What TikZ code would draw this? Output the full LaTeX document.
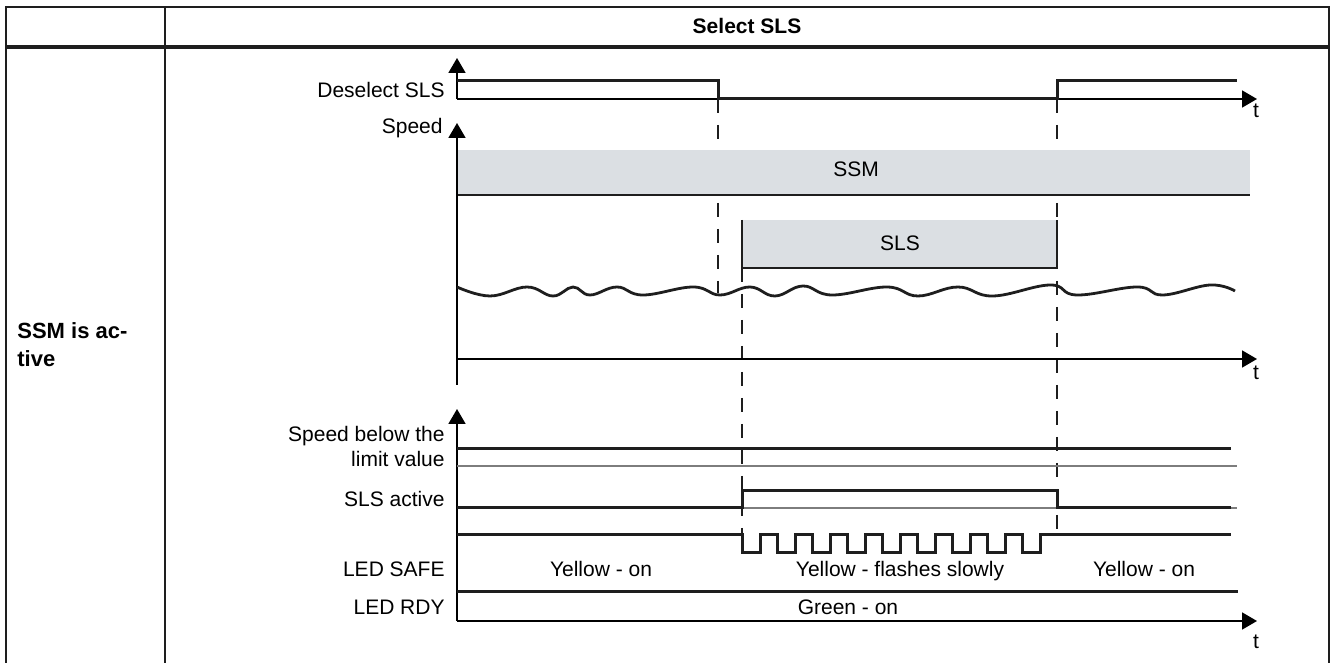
\documentclass[tikz,border=0pt]{standalone}
\usepackage{fontspec}
\setmainfont{Liberation Sans}
\usetikzlibrary{arrows.meta}
\definecolor{bandGray}{RGB}{219,223,227}
\definecolor{sigBlack}{RGB}{30,30,30}
\definecolor{lineGray}{RGB}{125,125,125}
\begin{document}
\begin{tikzpicture}[x=0.5pt,y=-0.5pt,
    lbl/.style={anchor=base east, inner sep=0pt, font=\fontsize{10.5}{12.5}\selectfont},
    txt/.style={anchor=base, inner sep=0pt, font=\fontsize{10.5}{12.5}\selectfont},
    sig/.style={line width=1.5pt, sigBlack},
    ax/.style={line width=0.9pt, black},
    arr/.style={ax, -{Triangle[length=7.5pt,width=8.5pt]}},
    baseln/.style={line width=0.6pt, lineGray},
    dsh/.style={line width=0.6pt, sigBlack, dash pattern=on 7pt off 6pt},
    band/.style={fill=bandGray, draw=none},
    frm/.style={line width=0.8pt, sigBlack}
  ]
  \useasboundingbox (0,0) rectangle (1330,663);
  % TABLE FRAME
  \draw[frm] (6,663) -- (6,7) -- (1329,7) -- (1329,663);
  \draw[frm] (165,7) -- (165,663);
  \draw[line width=2pt, sigBlack] (6,47) -- (1329,47);
  \node[anchor=base, font=\fontsize{10.5}{12.5}\selectfont\bfseries] (sel) at (747,34) {Select SLS};
  \node[anchor=base west, inner sep=0pt, font=\fontsize{11}{14}\selectfont\bfseries] (ssmact) at (17,339) {SSM is ac-};
  \node[anchor=base west, inner sep=0pt, font=\fontsize{11}{14}\selectfont\bfseries] (ssmact2) at (17,367) {tive};
  % SIGNAL NAMES
  \node[lbl] (dsl) at (445,98) {Deselect SLS};
  \node[lbl] (spd) at (443,134) {Speed};
  \node[lbl] (sbl) at (445,442) {Speed below the};
  \node[lbl] (sbl2) at (445,467) {limit value};
  \node[lbl] (slsa) at (445,507) {SLS active};
  \node[lbl] (safe) at (445,577) {LED SAFE};
  \node[lbl] (rdy) at (445,615) {LED RDY};
  % Dashed time marks
  \draw[dsh] (718,99) -- (718,293);
  \draw[dsh] (742,268) -- (742,533);
  \draw[dsh] (1057,99) -- (1057,533);
  % TOP: Deselect SLS
  \draw[arr] (457,99) -- (457,58);
  \draw[arr] (457,99) -- (1257,99);
  \node[txt] (t1) at (1256,118) {t};
  \draw[sig] (457,81) -- (718,81) -- (718,99) -- (1057,99) -- (1057,81) -- (1237,81);
  % MIDDLE: Speed with SSM / SLS bands
  \fill[band] (457,150) rectangle (1250,195);
  \draw[line width=0.7pt, sigBlack] (457,195) -- (1250,195);
  \node[txt] (ssm) at (856,177) {SSM};
  \fill[band] (742,220) rectangle (1057,268);
  \draw[line width=0.7pt, sigBlack] (742,220) -- (742,268) -- (1057,268) -- (1057,220);
  \node[txt] (sls) at (900,251) {SLS};
  \draw[arr] (457,385) -- (457,123);
  \draw[arr] (457,359) -- (1257,359);
  \node[txt] (t2) at (1256,380) {t};
  \draw[line width=1.4pt, sigBlack] plot[smooth, tension=0.7] coordinates {
    (457,287) (490,296) (527,287) (553,296) (573,287) (590,295) (617,287)
    (643,295) (693,287) (720,295) (750,287) (775,296) (803,286) (832,295)
    (887,287) (918,296) (958,287) (993,296) (1050,285) (1077,295) (1137,287)
    (1163,295) (1210,285) (1235,291)};
  % BOTTOM: status signals
  \draw[arr] (457,621) -- (457,409);
  \draw[arr] (457,621) -- (1257,621);
  \node[txt] (t3) at (1256,648) {t};
  \draw[baseln] (457,466) -- (1237,466);
  \draw[sig] (457,449) -- (1231,449);
  \draw[baseln] (457,508) -- (1237,508);
  \draw[sig] (457,508) -- (742,508) -- (742,491) -- (1057,491) -- (1057,508) -- (1231,508);
  \draw[sig] (457,535) -- (742,535)
    \foreach \i in {1,...,8} { -- ++(0,18) -- ++(18,0) -- ++(0,-18) -- ++(17,0) }
    -- ++(0,18) -- ++(18,0) -- ++(0,-18) -- (1231,535);
  \node[txt] (y1) at (601,577) {Yellow - on};
  \node[txt] (y2) at (900,577) {Yellow - flashes slowly};
  \node[txt] (y3) at (1144,577) {Yellow - on};
  \draw[sig] (457,592) -- (1238,592);
  \node[txt] (grn) at (848,615) {Green - on};
\end{tikzpicture}
\end{document}
